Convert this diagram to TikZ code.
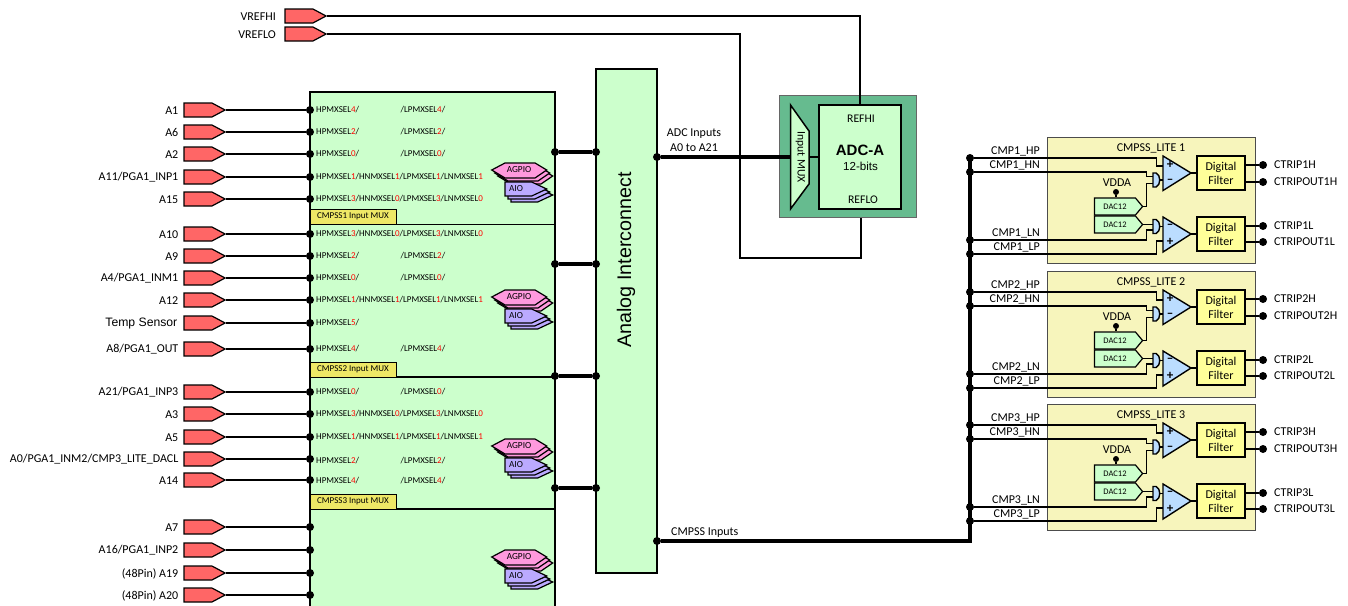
\documentclass[tikz,border=0pt]{standalone}
\usepackage{fontspec}
\setmainfont{Carlito}
\newfontfamily\arialfont{Liberation Sans}
\usetikzlibrary{shapes.symbols,calc}

\definecolor{muxgreen}{HTML}{CCFFCC}
\definecolor{adcgreen}{HTML}{66BB8F}
\definecolor{pinred}{HTML}{FF6666}
\definecolor{tabyellow}{HTML}{EEE866}
\definecolor{litebox}{HTML}{F7F5BC}
\definecolor{filteryellow}{HTML}{FFFF99}
\definecolor{compblue}{HTML}{BBDDFF}
\definecolor{agpiopink}{HTML}{FF99DD}
\definecolor{aiopurple}{HTML}{BBAAFF}
\newcommand{\sel}[2]{#1{\color{red}#2}}

\begin{document}
\begin{tikzpicture}[x=1pt, y=-1pt,
    pinbox/.style={shape=signal, signal to=east, signal pointer angle=56, draw=black, line width=1.2pt, fill=pinred, minimum width=41pt, minimum height=14pt, inner sep=0pt},
    pinlabel/.style={anchor=east, inner sep=0pt, font=\fontsize{12}{14}\selectfont},
    dot/.style={circle, fill=black, inner sep=0pt, minimum size=8pt},
    wire/.style={line width=1.4pt},
    bus/.style={line width=3.6pt},
    seltext/.style={anchor=west, inner sep=0pt, font=\fontsize{9}{10}\selectfont},
    muxtab/.style={draw=black, line width=1pt, fill=tabyellow, inner sep=0pt, minimum width=86pt, minimum height=15pt, font=\fontsize{9}{10}\selectfont},
    stacktext/.style={inner sep=0pt, font=\fontsize{9.3}{10}\selectfont},
    lite/.style={draw=black!70, line width=0.8pt, fill=litebox, minimum width=208pt, minimum height=126pt, inner sep=0pt},
    filterbox/.style={draw=black, line width=1.4pt, fill=filteryellow, minimum width=48pt, minimum height=34pt, inner sep=0pt, align=center, font=\fontsize{12}{14}\selectfont},
    dacbox/.style={shape=signal, signal to=east, signal pointer angle=100, draw=black, line width=1.2pt, fill=muxgreen, minimum width=48pt, minimum height=17pt, inner sep=0pt, font=\fontsize{8.5}{10}\selectfont},
    complabel/.style={inner sep=0pt, font=\fontsize{12}{14}\selectfont},
    comp/.style={draw=black, line width=1.4pt, fill=compblue},
    sign/.style={inner sep=0pt, font=\bfseries\fontsize{13}{13}\selectfont}
]
\clip (0,0) rectangle (1348,605);

% Input MUX block
\node[draw=black, line width=1.4pt, fill=muxgreen, minimum width=245pt, minimum height=530pt, inner sep=0pt] (inputmux) at (432.5,357) {};
\foreach \y in {224.5,377,509} {
    \draw[wire] (310,\y) -- (555,\y);
}
\node[muxtab] (tab1) at (353,216.5) {CMPSS1 Input MUX};
\node[muxtab] (tab2) at (353,369.5) {CMPSS2 Input MUX};
\node[muxtab] (tab3) at (353,501.5) {CMPSS3 Input MUX};

% Analog pins
\foreach \y/\lab in {110/A1, 132/A6, 154/A2, 177/{A11/PGA1\_INP1}, 199/A15, 234/A10, 256/A9, 278/{A4/PGA1\_INM1}, 300/A12, 349/{A8/PGA1\_OUT}, 392/{A21/PGA1\_INP3}, 414/A3, 437/A5, 459/{A0/PGA1\_INM2/CMP3\_LITE\_DACL}, 480/A14, 527/A7, 550/{A16/PGA1\_INP2}, 573/{(48Pin) A19}, 595/{(48Pin) A20}} {
    \node[pinbox] (pin\y) at (198,\y) {};
    \node[pinlabel] (lab\y) at (178.5,\y+0.5) {\lab};
    \node[dot] (dot\y) at (310,\y) {};
    \draw[wire] (pin\y.east) -- (dot\y);
}
\node[pinbox] (pin323) at (198,323) {};
\node[pinlabel, font=\arialfont\fontsize{12.2}{14}\selectfont] (lab323) at (177.5,323.5) {Temp Sensor};
\node[dot] (dot323) at (310,323) {};
\draw[wire] (pin323.east) -- (dot323);

% MUX selects
\foreach \y/\a in {110/4, 132/2, 154/0, 256/2, 278/0, 349/4, 392/0, 461/2, 481/4} {
    \node[seltext] (hp\y) at (316,\y) {\sel{HPMXSEL}{\a}/};
    \node[seltext] (lp\y) at (400.5,\y) {/\sel{LPMXSEL}{\a}/};
}
\node[seltext] (hp323) at (316,323) {\sel{HPMXSEL}{5}/};
\foreach \y/\a/\b in {177/1/1, 199/3/0, 234/3/0, 300/1/1, 414/3/0, 437/1/1} {
    \node[seltext] (full\y) at (316,\y) {\sel{HPMXSEL}{\a}/\sel{HNMXSEL}{\b}/\sel{LPMXSEL}{\a}/\sel{LNMXSEL}{\b}};
}

% AGPIO and AIO stacks
\foreach \y in {170,297,446,557} {
    \foreach \d in {6,3,0} {
        \draw[line width=1.2pt, fill=agpiopink] (491.7+\d,\y+\d) -- (505+\d,\y-7+\d) -- (535+\d,\y-7+\d) -- (546.7+\d,\y+\d) -- (535+\d,\y+8+\d) -- (505+\d,\y+8+\d) -- cycle;
    }
    \foreach \d in {6,3,0} {
        \draw[line width=1.2pt, fill=aiopurple] (505+\d,\y+12+\d) -- (531.7+\d,\y+12+\d) -- (546.7+\d,\y+19+\d) -- (531.7+\d,\y+26+\d) -- (505+\d,\y+26+\d) -- cycle;
    }
    \node[stacktext] (agpio\y) at (519,\y) {AGPIO};
    \node[stacktext] (aio\y) at (516,\y+19) {AIO};
}

% Analog interconnect
\node[draw=black, line width=1.4pt, fill=muxgreen, minimum width=61pt, minimum height=504pt, inner sep=0pt] (interconnect) at (626.5,321) {};
\node[rotate=90, inner sep=0pt, font=\arialfont\fontsize{19.7}{22}\selectfont] (interlabel) at (626,260) {Analog Interconnect};
\foreach \y in {152,264,376,488} {
    \node[dot] (out\y) at (555,\y) {};
    \node[dot] (in\y) at (596,\y) {};
    \draw[bus] (out\y) -- (in\y);
}

% ADC
\coordinate (refloturn) at (740,258);
\coordinate (reflopin) at (861,217);
\node[pinbox] (vrefhi) at (299,16) {};
\node[pinbox] (vreflo) at (299,34) {};
\node[pinlabel] (vrefhilab) at (276,16.5) {VREFHI};
\node[pinlabel] (vreflolab) at (276,34.5) {VREFLO};
\draw[wire] (vreflo.east) -| (refloturn) -| (reflopin);
\node[draw=black!60, line width=0.8pt, fill=adcgreen, minimum width=136.5pt, minimum height=122pt, inner sep=0pt] (adcouter) at (848,156) {};
\node[draw=black, line width=1.5pt, fill=muxgreen, minimum width=82pt, minimum height=104pt, inner sep=0pt] (adc) at (860,157) {};
\draw[wire] (vrefhi.east) -| (adc.north);
\node[inner sep=0pt, font=\fontsize{11.7}{13}\selectfont] (refhi) at (861,119) {REFHI};
\node[inner sep=0pt, font=\fontsize{11.7}{13}\selectfont] (reflo) at (863,200) {REFLO};
\node[inner sep=0pt, font=\arialfont\bfseries\fontsize{15}{17}\selectfont] (adcname) at (860,150) {ADC-A};
\node[inner sep=0pt, font=\arialfont\fontsize{11.6}{13}\selectfont] (adcbits) at (860.5,166) {12-bits};
\draw[line width=1.5pt, fill=muxgreen] (790.5,105) -- (809,131) -- (809,184) -- (790.5,209) -- cycle;
\node[rotate=-90, inner sep=0pt, font=\fontsize{11.6}{13}\selectfont] (adcmux) at (800.5,157) {Input MUX};
\coordinate (muxin) at (790.5,157);
\coordinate (muxout) at (809,157);
\node[dot] (adcin) at (657,157) {};
\draw[bus] (adcin) -- (muxin);
\draw[wire] (muxout) -- (adc.west |- muxout);
\node[inner sep=0pt, font=\fontsize{12}{14}\selectfont] (adclab1) at (694,134) {ADC Inputs};
\node[inner sep=0pt, font=\fontsize{12}{14}\selectfont] (adclab2) at (694,148) {A0 to A21};

% CMPSS bus
\node[dot] (cmpin) at (657,541) {};
\coordinate (buscorner) at (970,541);
\coordinate (bustop) at (970,158);
\draw[bus, line join=miter] (cmpin) -- (buscorner) -- (bustop);
\node[anchor=west, inner sep=0pt, font=\fontsize{12}{14}\selectfont] (cmplab) at (671,533) {CMPSS Inputs};

% CMPSS_LITE blocks
\foreach \n/\dy in {1/0, 2/134, 3/267} {
\begin{scope}[yshift=-\dy pt]
    \node[lite] (lite\n) at (1151,200) {};
    \node[complabel] (litelab\n) at (1151,148) {CMPSS\_LITE \n};

    \node[filterbox] (filth\n) at (1221,173) {Digital\\Filter};
    \node[filterbox] (filtl\n) at (1221,234) {Digital\\Filter};

    \foreach \yy/\nm/\ff in {165/CTRIP\n H/filth\n, 182/CTRIPOUT\n H/filth\n, 226/CTRIP\n L/filtl\n, 242/CTRIPOUT\n L/filtl\n} {
        \node[dot] (trip\yy) at (1263,\yy) {};
        \node[anchor=west, complabel] (triplab\yy) at (1274,\yy) {\nm};
        \draw[wire] (\ff.east |- trip\yy) -- (trip\yy);
    }

    \node[dacbox] (dach\n) at (1115,206.5) {DAC12};
    \node[dacbox] (dacl\n) at (1115,224.5) {DAC12};
    \node[complabel] (vddalab\n) at (1117,183) {VDDA};
    \node[dot, minimum size=6pt] (vdda\n) at (1116,192) {};
    \draw[wire] (vdda\n) -- (dach\n.north -| vdda\n);

    % input wires
    \foreach \yy/\nm/\xe/\ye/\ex in {158/HP/1156.5/166/1163, 172/HN/1146.5/176.7/1153, 240/LN/1146.5/230/1153, 254/LP/1156.5/241/1163} {
        \node[dot] (bus\yy) at (970,\yy) {};
        \coordinate (turn\yy) at (\xe,\yy);
        \coordinate (end\yy) at (\ex,\ye);
        \draw[wire] (bus\yy) -- (turn\yy) |- (end\yy);
        \node[complabel, anchor=east] (cmplab\yy) at (1040,\yy-7) {CMP\n\_\nm};
    }
    \coordinate (dacturn\n) at (1146.5,183.3);
    \coordinate (gateh\n) at (1153,183.3);
    \coordinate (gatel\n) at (1153,224.5);
    \draw[wire] (dach\n.east) -| (dacturn\n) -- (gateh\n);
    \draw[wire] (dacl\n.east) -- (gatel\n);

    % gates
    \draw[comp] (1153,173) -- (1156,173) .. controls (1161,175) and (1161,185) .. (1156,187) -- (1153,187) -- cycle;
    \draw[comp] (1153,219.5) -- (1156,219.5) .. controls (1161,221.5) and (1161,231.5) .. (1156,233.5) -- (1153,233.5) -- cycle;
    \draw[wire] (1159.5,180) -- (1163,180);
    \draw[wire] (1159.5,226.5) -- (1163,226.5);

    % comparators
    \draw[comp] (1163,156) -- (1191,173) -- (1163,190.5) -- cycle;
    \draw[comp] (1163,217) -- (1191,234) -- (1163,252) -- cycle;
    \node[sign] (ph\n) at (1170,165) {+};
    \node[sign] (mh\n) at (1170,181) {--};
    \node[sign] (ml\n) at (1170,226) {--};
    \node[sign] (pl\n) at (1170,242) {+};
    \coordinate (comph\n) at (1191,173);
    \coordinate (compl\n) at (1191,234);
    \draw[wire] (comph\n) -- (filth\n.west |- comph\n);
    \draw[wire] (compl\n) -- (filtl\n.west |- compl\n);
\end{scope}
}
\end{tikzpicture}
\end{document}
